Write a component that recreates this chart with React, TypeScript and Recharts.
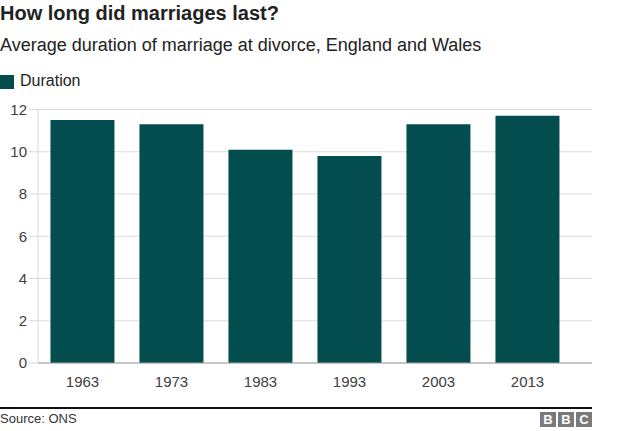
import React from "react";
import { BarChart, Bar, XAxis, YAxis, CartesianGrid } from "recharts";

const years = ["1963", "1973", "1983", "1993", "2003", "2013"];
const duration = [11.5, 11.3, 10.1, 9.8, 11.3, 11.7];
const yTicks = [0, 2, 4, 6, 8, 10, 12];

const data = years.map((y, i) => ({ year: y, Duration: duration[i] }));

const FONT = '"Liberation Sans", Arial, Helvetica, sans-serif';
const BAR = "#034d4e";

export default function App() {
  return (
    <div
      style={{
        position: "absolute",
        left: 0,
        top: 0,
        width: 624,
        height: 431,
        background: "#fff",
        fontFamily: FONT,
        overflow: "hidden",
      }}
    >
      <div
        style={{
          position: "absolute",
          left: 0,
          top: 2,
          fontSize: 20,
          fontWeight: "bold",
          color: "#222",
          whiteSpace: "nowrap",
        }}
      >
        How long did marriages last?
      </div>
      <div
        style={{
          position: "absolute",
          left: 0,
          top: 35,
          fontSize: 18,
          color: "#222",
          whiteSpace: "nowrap",
        }}
      >
        Average duration of marriage at divorce, England and Wales
      </div>
      <div style={{ position: "absolute", left: 0, top: 75, width: 14, height: 14, background: BAR }} />
      <div
        style={{
          position: "absolute",
          left: 20,
          top: 72,
          fontSize: 16,
          color: "#222",
          whiteSpace: "nowrap",
        }}
      >
        Duration
      </div>

      <div style={{ position: "absolute", left: 0, top: 0 }}>
        <BarChart
          width={624}
          height={431}
          data={data}
          margin={{ top: 109.5, right: 32, bottom: 38, left: 0 }}
          barCategoryGap="14%"
        >
          <CartesianGrid vertical={false} stroke="#dcdcdc" />
          <YAxis
            width={38}
            domain={[0, 12]}
            ticks={yTicks}
            tick={{ fill: "#404040", fontSize: 15, fontFamily: FONT }}
            tickSize={9}
            tickMargin={2}
            axisLine={{ stroke: "#d8d8d8" }}
            tickLine={{ stroke: "#d8d8d8" }}
            interval={0}
          />
          <XAxis
            dataKey="year"
            height={30}
            padding={{ left: 0, right: 20 }}
            tick={{ fill: "#404040", fontSize: 15, fontFamily: FONT }}
            tickLine={false}
            tickSize={0}
            tickMargin={13}
            axisLine={{ stroke: "#a0a0a0" }}
            interval={0}
          />
          <Bar dataKey="Duration" fill={BAR} isAnimationActive={false} />
        </BarChart>
      </div>

      <div
        style={{
          position: "absolute",
          left: 0,
          top: 407,
          width: 592,
          height: 1.5,
          background: "#111",
        }}
      />
      <div
        style={{
          position: "absolute",
          left: 0,
          top: 411,
          fontSize: 13,
          color: "#333",
          whiteSpace: "nowrap",
        }}
      >
        Source: ONS
      </div>
      {["B", "B", "C"].map((ch, i) => (
        <div
          key={i}
          style={{
            position: "absolute",
            left: 540 + i * 18,
            top: 412,
            width: 16,
            height: 15,
            background: "#7a7a7a",
            color: "#fff",
            fontSize: 13,
            fontWeight: "bold",
            lineHeight: "15px",
            textAlign: "center",
          }}
        >
          {ch}
        </div>
      ))}
    </div>
  );
}
